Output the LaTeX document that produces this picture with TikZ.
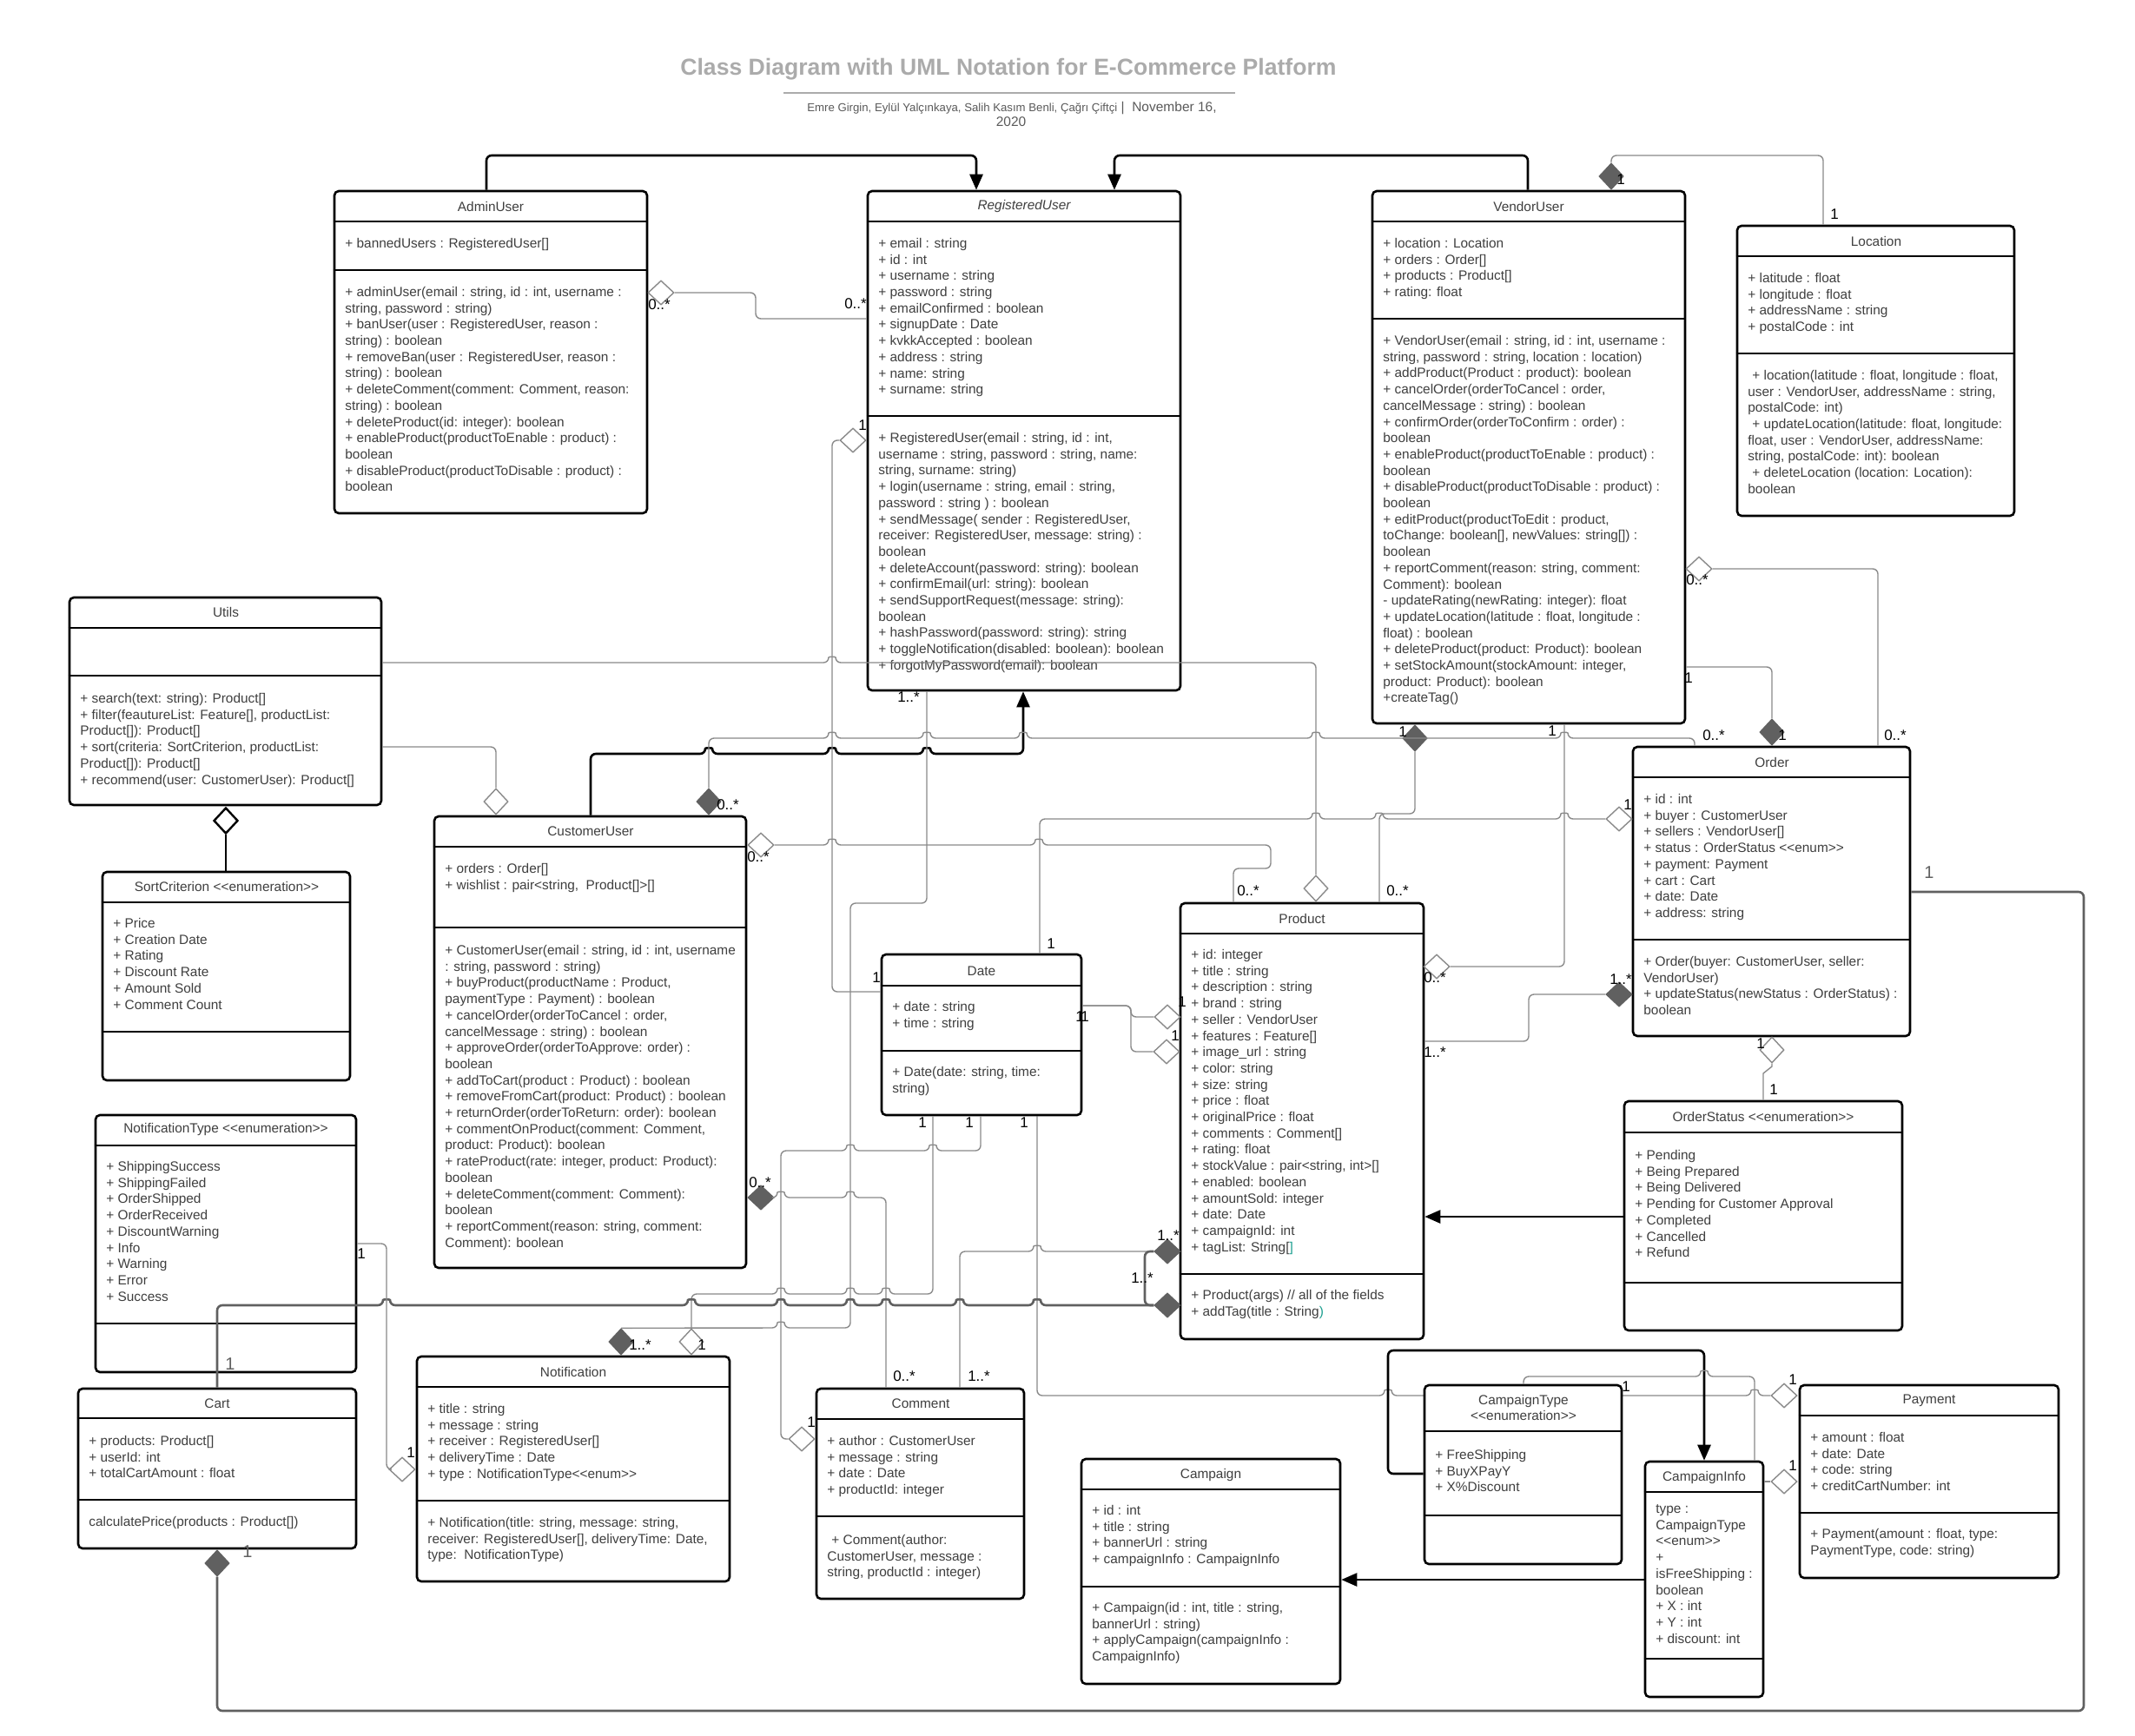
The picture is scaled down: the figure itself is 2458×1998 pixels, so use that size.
\documentclass[tikz,border=0pt]{standalone}
\usepackage{fontspec}
\setmainfont{Liberation Sans}
\usetikzlibrary{shapes.geometric,arrows.meta,fit}
\pgfdeclarelayer{bg}
\pgfsetlayers{bg,main}
\definecolor{tx}{HTML}{3F3F3F}
\definecolor{lg}{HTML}{8A8A8A}
\definecolor{dg}{HTML}{606060}
\definecolor{ttlgray}{HTML}{ABABAB}
\definecolor{subgray}{HTML}{5A5A5A}
\definecolor{tl}{HTML}{1A9E8F}
\newcommand\rows[1]{\begin{tabular}{@{}l@{}}#1\end{tabular}}
\newcommand\cdiv[2]{\draw[div] (#1.west |- 0,#2) -- (#1.east |- 0,#2);}
% double angle brackets kept as two plain characters
\newcommand\LLt{<\kern0pt<}
\newcommand\GGt{>\kern0pt>}
\begin{document}
\begin{tikzpicture}[x=0.5pt,y=-0.5pt,
  box/.style={draw=black,line width=1.3pt,fill=white,rounded corners=2.5pt,inner sep=0pt},
  div/.style={draw=black,line width=1.3pt},
  txt/.style={anchor=north west,inner sep=0pt,text=tx,font=\fontsize{7.7}{9.35}\selectfont},
  ttl/.style={inner sep=0pt,text=tx,font=\fontsize{7.7}{9.35}\selectfont},
  assoc/.style={draw=lg,line width=0.7pt,rounded corners=3pt},
  heavy/.style={draw=dg,line width=1.3pt,rounded corners=3pt},
  inh/.style={draw=black,line width=1.3pt,rounded corners=3pt,-{Triangle[length=9pt,width=7.5pt]}},
  odh/.style={diamond,draw=lg,fill=white,line width=0.7pt,minimum width=15pt,minimum height=14pt,inner sep=0pt},
  odv/.style={diamond,draw=lg,fill=white,line width=0.7pt,minimum width=14pt,minimum height=15pt,inner sep=0pt},
  fdh/.style={diamond,draw=dg,fill=dg,line width=0.7pt,minimum width=15pt,minimum height=14pt,inner sep=0pt},
  fdv/.style={diamond,draw=dg,fill=dg,line width=0.7pt,minimum width=14pt,minimum height=15pt,inner sep=0pt},
  lbl/.style={inner sep=0pt,text=black,font=\fontsize{8.5}{10}\selectfont},
  glbl/.style={inner sep=0pt,text=dg,font=\fontsize{10}{12}\selectfont},
  % small hops where a horizontal line crosses a vertical one
  jr/.style args={#1/#2}{insert path={-- ({#1-4},#2) .. controls ({#1-4},{#2-7}) and ({#1+4},{#2-7}) .. ({#1+4},#2)}},
  jl/.style args={#1/#2}{insert path={-- ({#1+4},#2) .. controls ({#1+4},{#2-7}) and ({#1-4},{#2-7}) .. ({#1-4},#2)}},
]
\begin{pgfonlayer}{bg}
\fill[white] (0,0) rectangle (2458,1998);
\end{pgfonlayer}
\useasboundingbox (0,0) rectangle (2458,1998);

% ---------- heading ----------
\node[font=\bfseries\fontsize{13.3}{16}\selectfont,text=ttlgray,inner sep=0pt] (title) at (1161,80) {Class Diagram with UML Notation for E-Commerce Platform};
\draw[ttlgray,line width=1.2pt] (902,107) -- (1422,107);
\node[anchor=base,inner sep=0pt,text=subgray] (sub1) at (1165,128) {{\fontsize{6.6}{8}\selectfont Emre Girgin, Eylül Yalçınkaya, Salih Kasım Benli, Çağrı Çiftçi}\fontsize{7.75}{9}\selectfont\ |\ \ November 16,};
\node[anchor=base,inner sep=0pt,text=subgray,font=\fontsize{7.75}{9}\selectfont] (sub2) at (1164,145) {2020};

% ---------- class boxes ----------
\node[box,fit={(385,220)(745,591)}] (au) {};
\node[box,fit={(999,220)(1359,795)}] (ru) {};
\node[box,fit={(1580,220)(1940,833)}] (vu) {};
\node[box,fit={(2000,260)(2319,594)}] (loc) {};
\node[box,fit={(80,688)(439,927)}] (ut) {};
\node[box,fit={(118,1004)(403,1244)}] (sc) {};
\node[box,fit={(500,940)(859,1460)}] (cu) {};
\node[box,fit={(1015,1099)(1245,1284)}] (dt) {};
\node[box,fit={(1359,1040)(1639,1542)}] (pr) {};
\node[box,fit={(1880,860)(2199,1193)}] (ord) {};
\node[box,fit={(1870,1268)(2190,1532)}] (os) {};
\node[box,fit={(110,1284)(410,1580)}] (nt) {};
\node[box,fit={(90,1599)(410,1783)}] (ca) {};
\node[box,fit={(480,1562)(840,1821)}] (no) {};
\node[box,fit={(940,1599)(1179,1841)}] (cm) {};
\node[box,fit={(1245,1680)(1543,1939)}] (cp) {};
\node[box,fit={(1640,1595)(1867,1801)}] (ct) {};
\node[box,fit={(1894,1683)(2030,1954)}] (ci) {};
\node[box,fit={(2072,1595)(2370,1817)}] (pa) {};

% compartments
\cdiv{au}{255}\cdiv{au}{311}
\cdiv{ru}{255}\cdiv{ru}{479}
\cdiv{vu}{255}\cdiv{vu}{367}
\cdiv{loc}{295}\cdiv{loc}{407}
\cdiv{ut}{723}\cdiv{ut}{778}
\cdiv{sc}{1039}\cdiv{sc}{1188}
\cdiv{cu}{975}\cdiv{cu}{1068}
\cdiv{dt}{1135}\cdiv{dt}{1210}
\cdiv{pr}{1075}\cdiv{pr}{1467}
\cdiv{ord}{895}\cdiv{ord}{1082}
\cdiv{os}{1304}\cdiv{os}{1477}
\cdiv{nt}{1319}\cdiv{nt}{1524}
\cdiv{ca}{1633}\cdiv{ca}{1727}
\cdiv{no}{1597}\cdiv{no}{1728}
\cdiv{cm}{1634}\cdiv{cm}{1746}
\cdiv{cp}{1715}\cdiv{cp}{1827}
\cdiv{ct}{1648}\cdiv{ct}{1745}
\cdiv{ci}{1718}\cdiv{ci}{1910}
\cdiv{pa}{1630}\cdiv{pa}{1742}

% ---------- class texts ----------
\node[ttl] (au-t) at (565,238) {AdminUser};
\node[txt] (au-a) at (397,272) {\rows{+ bannedUsers : RegisteredUser[]}};
\node[txt] (au-m) at (397,328) {\rows{+ adminUser(email : string, id : int, username :\\
string, password : string)\\
+ banUser(user : RegisteredUser, reason :\\
string) : boolean\\
+ removeBan(user : RegisteredUser, reason :\\
string) : boolean\\
+ deleteComment(comment: Comment, reason:\\
string) : boolean\\
+ deleteProduct(id: integer): boolean\\
+ enableProduct(productToEnable : product) :\\
boolean\\
+ disableProduct(productToDisable : product) :\\
boolean}};

\node[ttl] (ru-t) at (1179,238) {\itshape RegisteredUser};
\node[txt] (ru-a) at (1011,272) {\rows{+ email : string\\
+ id : int\\
+ username : string\\
+ password : string\\
+ emailConfirmed : boolean\\
+ signupDate : Date\\
+ kvkkAccepted : boolean\\
+ address : string\\
+ name: string\\
+ surname: string}};
\node[txt] (ru-m) at (1011,496) {\rows{+ RegisteredUser(email : string, id : int,\\
username : string, password : string, name:\\
string, surname: string)\\
+ login(username : string, email : string,\\
password : string ) : boolean\\
+ sendMessage( sender : RegisteredUser,\\
receiver: RegisteredUser, message: string) :\\
boolean\\
+ deleteAccount(password: string): boolean\\
+ confirmEmail(url: string): boolean\\
+ sendSupportRequest(message: string):\\
boolean\\
+ hashPassword(password: string): string\\
+ toggleNotification(disabled: boolean): boolean\\
+ forgotMyPassword(email): boolean}};

\node[ttl] (vu-t) at (1760,238) {VendorUser};
\node[txt] (vu-a) at (1592,272) {\rows{+ location : Location\\
+ orders : Order[]\\
+ products : Product[]\\
+ rating: float}};
\node[txt] (vu-m) at (1592,384) {\rows{+ VendorUser(email : string, id : int, username :\\
string, password : string, location : location)\\
+ addProduct(Product : product): boolean\\
+ cancelOrder(orderToCancel : order,\\
cancelMessage : string) : boolean\\
+ confirmOrder(orderToConfirm : order) :\\
boolean\\
+ enableProduct(productToEnable : product) :\\
boolean\\
+ disableProduct(productToDisable : product) :\\
boolean\\
+ editProduct(productToEdit : product,\\
toChange: boolean[], newValues: string[]) :\\
boolean\\
+ reportComment(reason: string, comment:\\
Comment): boolean\\
- updateRating(newRating: integer): float\\
+ updateLocation(latitude : float, longitude :\\
float) : boolean\\
+ deleteProduct(product: Product): boolean\\
+ setStockAmount(stockAmount: integer,\\
product: Product): boolean\\
+createTag()}};

\node[ttl] (loc-t) at (2160,278) {Location};
\node[txt] (loc-a) at (2012,312) {\rows{+ latitude : float\\
+ longitude : float\\
+ addressName : string\\
+ postalCode : int}};
\node[txt] (loc-m) at (2012,424) {\rows{\hspace{2.5pt}+ location(latitude : float, longitude : float,\\
user : VendorUser, addressName : string,\\
postalCode: int)\\
\hspace{2.5pt}+ updateLocation(latitude: float, longitude:\\
float, user : VendorUser, addressName:\\
string, postalCode: int): boolean\\
\hspace{2.5pt}+ deleteLocation (location: Location):\\
boolean}};

\node[ttl] (ut-t) at (260,705) {Utils};
\node[txt] (ut-m) at (92,796) {\rows{+ search(text: string): Product[]\\
+ filter(feautureList: Feature[], productList:\\
Product[]): Product[]\\
+ sort(criteria: SortCriterion, productList:\\
Product[]): Product[]\\
+ recommend(user: CustomerUser): Product[]}};

\node[ttl] (sc-t) at (261,1021) {SortCriterion \LLt enumeration\GGt};
\node[txt] (sc-a) at (130,1055) {\rows{+ Price\\
+ Creation Date\\
+ Rating\\
+ Discount Rate\\
+ Amount Sold\\
+ Comment Count}};

\node[ttl] (cu-t) at (680,957) {CustomerUser};
\node[txt] (cu-a) at (512,992) {\rows{+ orders : Order[]\\
+ wishlist : pair<string,\ \ Product[]>[]}};
\node[txt] (cu-m) at (512,1086) {\rows{+ CustomerUser(email : string, id : int, username\\
: string, password : string)\\
+ buyProduct(productName : Product,\\
paymentType : Payment) : boolean\\
+ cancelOrder(orderToCancel : order,\\
cancelMessage : string) : boolean\\
+ approveOrder(orderToApprove: order) :\\
boolean\\
+ addToCart(product : Product) : boolean\\
+ removeFromCart(product: Product) : boolean\\
+ returnOrder(orderToReturn: order): boolean\\
+ commentOnProduct(comment: Comment,\\
product: Product): boolean\\
+ rateProduct(rate: integer, product: Product):\\
boolean\\
+ deleteComment(comment: Comment):\\
boolean\\
+ reportComment(reason: string, comment:\\
Comment): boolean}};

\node[ttl] (dt-t) at (1130,1118) {Date};
\node[txt] (dt-a) at (1027,1151) {\rows{+ date : string\\
+ time : string}};
\node[txt] (dt-m) at (1027,1226) {\rows{+ Date(date: string, time:\\
string)}};

\node[ttl] (pr-t) at (1499,1058) {Product};
\node[txt] (pr-a) at (1371,1091) {\rows{+ id: integer\\
+ title : string\\
+ description : string\\
+ brand : string\\
+ seller : VendorUser\\
+ features : Feature[]\\
+ image\_url : string\\
+ color: string\\
+ size: string\\
+ price : float\\
+ originalPrice : float\\
+ comments : Comment[]\\
+ rating: float\\
+ stockValue : pair<string, int>[]\\
+ enabled: boolean\\
+ amountSold: integer\\
+ date: Date\\
+ campaignId: int\\
+ tagList: String[\textcolor{tl}{]}}};
\node[txt] (pr-m) at (1371,1483) {\rows{+ Product(args) // all of the fields\\
+ addTag(title : String\textcolor{tl}{)}}};

\node[ttl] (ord-t) at (2040,878) {Order};
\node[txt] (ord-a) at (1892,912) {\rows{+ id : int\\
+ buyer : CustomerUser\\
+ sellers : VendorUser[]\\
+ status : OrderStatus \LLt enum\GGt\\
+ payment: Payment\\
+ cart : Cart\\
+ date: Date\\
+ address: string}};
\node[txt] (ord-m) at (1892,1099) {\rows{+ Order(buyer: CustomerUser, seller:\\
VendorUser)\\
+ updateStatus(newStatus : OrderStatus) :\\
boolean}};

\node[ttl] (os-t) at (2030,1286) {OrderStatus \LLt enumeration\GGt};
\node[txt] (os-a) at (1882,1322) {\rows{+ Pending\\
+ Being Prepared\\
+ Being Delivered\\
+ Pending for Customer Approval\\
+ Completed\\
+ Cancelled\\
+ Refund}};

\node[ttl] (nt-t) at (260,1301) {NotificationType \LLt enumeration\GGt};
\node[txt] (nt-a) at (122,1335) {\rows{+ ShippingSuccess\\
+ ShippingFailed\\
+ OrderShipped\\
+ OrderReceived\\
+ DiscountWarning\\
+ Info\\
+ Warning\\
+ Error\\
+ Success}};

\node[ttl] (ca-t) at (250,1616) {Cart};
\node[txt] (ca-a) at (102,1651) {\rows{+ products: Product[]\\
+ userId: int\\
+ totalCartAmount : float}};
\node[txt] (ca-m) at (102,1744) {\rows{calculatePrice(products : Product[])}};

\node[ttl] (no-t) at (660,1580) {Notification};
\node[txt] (no-a) at (492,1614) {\rows{+ title : string\\
+ message : string\\
+ receiver : RegisteredUser[]\\
+ deliveryTime : Date\\
+ type : NotificationType\LLt enum\GGt}};
\node[txt] (no-m) at (492,1745) {\rows{+ Notification(title: string, message: string,\\
receiver: RegisteredUser[], deliveryTime: Date,\\
type:\ \ NotificationType)}};

\node[ttl] (cm-t) at (1060,1616) {Comment};
\node[txt] (cm-a) at (952,1651) {\rows{+ author : CustomerUser\\
+ message : string\\
+ date : Date\\
+ productId: integer}};
\node[txt] (cm-m) at (952,1765) {\rows{\hspace{2.5pt}+ Comment(author:\\
CustomerUser, message :\\
string, productId : integer)}};

\node[ttl] (cp-t) at (1394,1698) {Campaign};
\node[txt] (cp-a) at (1257,1731) {\rows{+ id : int\\
+ title : string\\
+ bannerUrl : string\\
+ campaignInfo : CampaignInfo}};
\node[txt] (cp-m) at (1257,1843) {\rows{+ Campaign(id : int, title : string,\\
bannerUrl : string)\\
+ applyCampaign(campaignInfo :\\
CampaignInfo)}};

\node[ttl,align=center] (ct-t) at (1754,1621) {CampaignType\\\LLt enumeration\GGt};
\node[txt] (ct-a) at (1652,1667) {\rows{+ FreeShipping\\
+ BuyXPayY\\
+ X\%Discount}};

\node[ttl] (ci-t) at (1962,1701) {CampaignInfo};
\node[txt] (ci-a) at (1906,1729) {\rows{type :\\
CampaignType\\
\LLt enum\GGt\\
+\\
isFreeShipping :\\
boolean\\
+ X : int\\
+ Y : int\\
+ discount: int}};

\node[ttl] (pa-t) at (2221,1613) {Payment};
\node[txt] (pa-a) at (2084,1647) {\rows{+ amount : float\\
+ date: Date\\
+ code: string\\
+ creditCartNumber: int}};
\node[txt] (pa-m) at (2084,1758) {\rows{+ Payment(amount : float, type:\\
PaymentType, code: string)}};

% ---------- association ends ----------
\node[odh] (dau) at (761,337) {};
\node[odh] (dru) at (982,507) {};
\node[fdv] (dvu3) at (1855,203) {};
\node[fdv] (dno1) at (715,1545) {};
\node[odv] (dno2) at (796,1545) {};
\node[odh] (dcm) at (923,1657) {};
\node[odh] (dpa1) at (2054,1607) {};
\node[odh] (dpa2) at (2054,1706) {};
\node[odh] (dor1) at (1864,943) {};
\node[odh] (dpr1) at (1344,1171) {};
\node[odh] (dpr2) at (1343,1211) {};
\node[fdh] (dcu2) at (876,1379) {};
\node[odh] (dcu4) at (876,973) {};
\node[fdh] (dpr3) at (1344,1441) {};
\node[fdh] (dpr4) at (1344,1503) {};
\node[odv] (dpr5) at (1515,1023) {};
\node[odv] (dcu1) at (571,923) {};
\node[diamond,draw=black,fill=white,line width=1.2pt,minimum width=14pt,minimum height=15pt,inner sep=0pt] (dut) at (260,945) {};
\node[fdv] (dcu3) at (816,923) {};
\node[fdv] (dvu1) at (1629,850) {};
\node[odh] (dpr6) at (1654,1113) {};
\node[odh] (dvu2) at (1956,655) {};
\node[fdv] (dor2) at (2040,843) {};
\node[fdh] (dor3) at (1864,1145) {};
\node[odv] (dor4) at (2040,1209) {};
\node[fdv] (dca) at (250,1800) {};
\node[odh] (dno3) at (463,1692) {};

% ---------- connectors ----------
\begin{pgfonlayer}{bg}
\draw[assoc] (dt.south -| 1194,0) -- (1194,1607) [jr=1598/1607] [jr=2020/1607] -- (dpa1.west);
\end{pgfonlayer}

% generalisations
\draw[inh] (au.north -| 560,0) -- (560,179) -- (1124,179) -- (ru.north -| 1124,0);
\draw[inh] (vu.north -| 1759,0) -- (1759,179) -- (1283,179) -- (ru.north -| 1283,0);
\draw[inh] (cu.north -| 680,0) -- (680,868) [jr=816/868] [jr=958/868] [jr=1067/868] -- (1178,868) -- (ru.south -| 1178,0);
\draw[inh] (os.west |- 0,1401) -- (pr.east |- 0,1401);
\draw[inh] (ci.west |- 0,1819) -- (cp.east |- 0,1819);
\draw[inh] (ct.west |- 0,1697) -- (1598,1697) -- (1598,1555) -- (1962,1555) -- (ci.north -| 1962,0);

% associations
\draw[assoc] (dau.east) -- (870,337) -- (870,367) -- (ru.west |- 0,367);
\draw[assoc] (dvu3.north) -- (1855,179) -- (2099,179) -- (loc.north -| 2099,0);
\draw[assoc] (dru.west) -- (958,507) -- (958,1142) -- (dt.west |- 0,1142);
\draw[assoc] (ru.south -| 1067,0) -- (1067,1040) -- (979,1040) -- (979,1529) [jl=899/1529] -- (dno1.north);
\draw[assoc] (dt.south -| 1074,0) -- (1074,1490) [jl=1020/1490] [jl=979/1490] [jl=899/1490] -- (796,1490) -- (dno2.north);
\draw[assoc] (dt.south -| 1129,0) -- (1129,1325) [jl=1074/1325] [jl=979/1325] -- (899,1325) -- (899,1657) -- (dcm.west);
\draw[assoc] (dt.north -| 1197,0) -- (1197,943) [jr=1515/943] [jr=1588/943] [jr=1801/943] -- (dor1.west);
\draw[assoc] (dt.east |- 0,1158) -- (1302,1158) -- (1302,1171) -- (dpr1.west);
\draw[assoc] (dt.east |- 0,1158) -- (1302,1158) -- (1302,1211) -- (dpr2.west);
\draw[assoc] (dcu2.east) [jr=899/1379] [jr=979/1379] -- (1020,1379) -- (cm.north -| 1020,0);
\draw[assoc] (dcu4.east) [jr=958/973] [jr=1196/973] -- (1463,973) -- (1463,1000) -- (1420,1000) -- (pr.north -| 1420,0);
\draw[assoc] (dpr3.west) [jl=1194/1441] -- (1105,1441) -- (cm.north -| 1105,0);
\draw[heavy] (dpr4.west) [jl=1194/1503] [jl=1105/1503] [jl=1020/1503] [jl=979/1503] [jl=899/1503] [jl=796/1503] [jl=445/1503] -- (250,1503) -- (ca.north -| 250,0);
\draw[heavy] (dpr3.west) -- (1318,1441) -- (1318,1503) -- (dpr4.west);
\draw[assoc] (ut.east |- 0,763) [jr=958/763] -- (1515,763) -- (dpr5.north);
\draw[assoc] (ut.east |- 0,860) -- (571,860) -- (dcu1.north);
\draw[black,line width=1.2pt] (dut.south) -- (sc.north -| 260,0);
\draw[assoc] (dcu3.north) -- (816,850) [jr=958/850] [jr=1067/850] [jr=1178/850] [jr=1515/850] [jr=1801/850] -- (1951,850) -- (ord.north -| 1951,0);
\draw[assoc] (dvu1.south) -- (1629,937) -- (1588,937) -- (pr.north -| 1588,0);
\draw[assoc] (vu.south -| 1801,0) -- (1801,1113) -- (dpr6.east);
\draw[assoc] (dvu2.east) -- (2162,655) -- (ord.north -| 2162,0);
\draw[assoc] (vu.east |- 0,768) -- (2040,768) -- (dor2.north);
\draw[assoc] (dor3.west) -- (1760,1145) -- (1760,1199) -- (pr.east |- 0,1199);
\draw[draw=lg,line width=0.7pt] (dor4.south) -- (2040,1228) -- (2030,1236) -- (os.north -| 2030,0);
\draw[heavy] (ord.east |- 0,1027) -- (2399,1027) -- (2399,1970) -- (250,1970) -- (dca.south);
\draw[assoc] (nt.east |- 0,1432) -- (445,1432) -- (445,1692) -- (dno3.west);
\draw[assoc] (ct.north -| 1754,0) -- (1754,1585) [jr=1962/1585] -- (2020,1585) -- (ci.north -| 2020,0);
\draw[assoc] (ci.east |- 0,1706) -- (dpa2.west);

% ---------- multiplicities ----------
\node[lbl] (m1) at (759,351) {0..*};
\node[lbl] (m2) at (985,350) {0..*};
\node[lbl] (m3) at (993,490) {1};
\node[lbl] (m4) at (1046,803) {1..*};
\node[lbl] (m5) at (1866,207) {1};
\node[lbl] (m6) at (2112,247) {1};
\node[lbl] (m7) at (838,927) {0..*};
\node[lbl] (m8) at (873,987) {0..*};
\node[lbl] (m9) at (875,1362) {0..*};
\node[lbl] (m10) at (1615,843) {1};
\node[lbl] (m11) at (1973,847) {0..*};
\node[lbl] (m12) at (1787,842) {1};
\node[lbl] (m13) at (1954,668) {0..*};
\node[lbl] (m14) at (2182,847) {0..*};
\node[lbl] (m15) at (1944,781) {1};
\node[lbl] (m16) at (2052,847) {1};
\node[lbl] (m17) at (1874,927) {1};
\node[lbl] (m18) at (1866,1128) {1..*};
\node[lbl] (m19) at (1652,1126) {0..*};
\node[lbl] (m20) at (1652,1212) {1..*};
\node[glbl] (m21) at (2221,1005) {1};
\node[lbl] (m22) at (2027,1202) {1};
\node[lbl] (m23) at (2042,1255) {1};
\node[lbl] (m24) at (1437,1026) {0..*};
\node[lbl] (m25) at (1609,1026) {0..*};
\node[lbl] (m26) at (1210,1087) {1};
\node[lbl] (m27) at (1009,1126) {1};
\node[lbl] (m28) at (1243,1171) {1};
\node[lbl] (m29) at (1249,1171) {1};
\node[lbl] (m30) at (1361,1154) {1};
\node[lbl] (m31) at (1353,1193) {1};
\node[lbl] (m32) at (1345,1423) {1..*};
\node[lbl] (m33) at (1315,1472) {1..*};
\node[lbl] (m34) at (1062,1293) {1};
\node[lbl] (m35) at (1116,1293) {1};
\node[lbl] (m36) at (1179,1293) {1};
\node[lbl] (m37) at (416,1444) {1};
\node[lbl] (m38) at (473,1673) {1};
\node[lbl] (m39) at (737,1549) {1..*};
\node[lbl] (m40) at (808,1549) {1};
\node[glbl] (m41) at (265,1571) {1};
\node[glbl] (m42) at (285,1787) {1};
\node[lbl] (m43) at (934,1638) {1};
\node[lbl] (m44) at (1041,1585) {0..*};
\node[lbl] (m45) at (1127,1585) {1..*};
\node[lbl] (m46) at (1872,1597) {1};
\node[lbl] (m47) at (2064,1589) {1};
\node[lbl] (m48) at (2064,1688) {1};
\end{tikzpicture}
\end{document}
